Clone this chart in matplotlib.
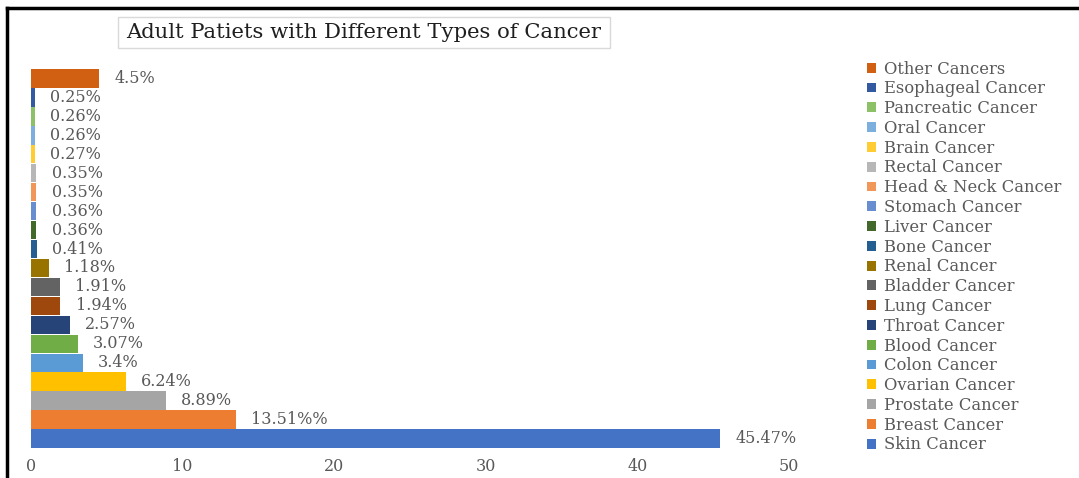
import matplotlib
matplotlib.use("Agg")
import matplotlib.pyplot as plt
from matplotlib.patches import Patch, Rectangle
from matplotlib.lines import Line2D

plt.rcParams['font.family'] = ['DejaVu Serif']

# Cancer types, bottom bar first
cancer_types = [
    "Skin Cancer", "Breast Cancer", "Prostate Cancer", "Ovarian Cancer",
    "Colon Cancer", "Blood Cancer", "Throat Cancer", "Lung Cancer",
    "Bladder Cancer", "Renal Cancer", "Bone Cancer", "Liver Cancer",
    "Stomach Cancer", "Head & Neck Cancer", "Rectal Cancer", "Brain Cancer",
    "Oral Cancer", "Pancreatic Cancer", "Esophageal Cancer", "Other Cancers",
]
percentages = [45.47, 13.51, 8.89, 6.24, 3.4, 3.07, 2.57, 1.94, 1.91, 1.18,
               0.41, 0.36, 0.36, 0.35, 0.35, 0.27, 0.26, 0.26, 0.25, 4.5]
value_labels = ["45.47%", "13.51%%", "8.89%", "6.24%", "3.4%", "3.07%", "2.57%",
                "1.94%", "1.91%", "1.18%", "0.41%", "0.36%", "0.36%", "0.35%",
                "0.35%", "0.27%", "0.26%", "0.26%", "0.25%", "4.5%"]
bar_colors = ["#4472C4", "#ED7D31", "#A5A5A5", "#FFC000", "#5B9BD5", "#70AD47",
              "#264478", "#9E480E", "#636363", "#997300", "#255E91", "#43682B",
              "#698ED0", "#F1975A", "#B7B7B7", "#FFCD33", "#7CAFDD", "#8CC168",
              "#335AA1", "#D26012"]
x_ticks = [0, 10, 20, 30, 40, 50]

TEXT_GREY = "#595959"

fig = plt.figure(figsize=(10.79, 4.78), dpi=100)
ax = fig.add_axes([31 / 1079, 1 - 448 / 478, (789 - 31) / 1079, (448 - 69) / 478])

positions = list(range(len(cancer_types)))
bars = ax.barh(positions, percentages, height=0.97, color=bar_colors,
               edgecolor="none")

# value labels sit a fixed distance to the right of each bar end
for pos, val, lab in zip(positions, percentages, value_labels):
    ax.annotate(lab, xy=(val, pos), xytext=(11, 0), textcoords="offset points",
                ha="left", va="center", fontsize=11.5, color=TEXT_GREY)

ax.set_xlim(0, 50)
ax.set_ylim(-0.5, len(cancer_types) - 0.5)
ax.set_xticks(x_ticks)
ax.set_xticklabels([str(t) for t in x_ticks], fontsize=11.5, color=TEXT_GREY)
ax.tick_params(axis="x", length=0, pad=7)
ax.set_yticks([])
for sp in ax.spines.values():
    sp.set_visible(False)

# legend: top entry is the last category
handles = [Patch(facecolor=c, edgecolor="none") for c in bar_colors[::-1]]
fig.legend(handles, cancer_types[::-1], loc="upper left",
           bbox_to_anchor=(860 / 1079, 1 - 54 / 478), frameon=False,
           fontsize=11.8, handlelength=0.55, handleheight=0.55, handletextpad=0.5,
           labelspacing=0.17, labelcolor=TEXT_GREY, borderaxespad=0)

# boxed chart title
fig.patches.append(Rectangle((118 / 1079, 1 - 48 / 478), (610 - 118) / 1079,
                             31 / 478, transform=fig.transFigure,
                             facecolor="white", edgecolor="#D9D9D9", lw=1))
fig.text(364 / 1079, 1 - 32 / 478, "Adult Patiets with Different Types of Cancer",
         ha="center", va="center", fontsize=15.2, color="#1F1F1F")

# outer frame lines along the top and left edges
fig.add_artist(Line2D([7 / 1079, 1], [1 - 8 / 478, 1 - 8 / 478],
                      transform=fig.transFigure, color="black", lw=2.5))
fig.add_artist(Line2D([7 / 1079, 7 / 1079], [0, 1 - 8 / 478],
                      transform=fig.transFigure, color="black", lw=2.5))

fig.savefig("out.png", dpi=100)
